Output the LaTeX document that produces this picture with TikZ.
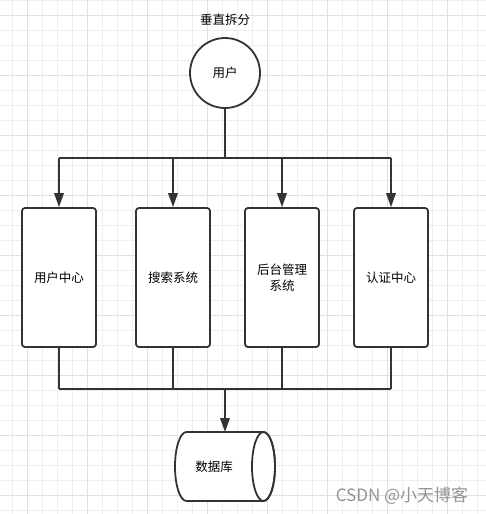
\documentclass[tikz,border=0pt]{standalone}
\usepackage{fontspec}
\setmainfont{Noto Sans CJK SC}
\usetikzlibrary{arrows.meta}
\definecolor{ink}{HTML}{333333}
\definecolor{minorgrid}{HTML}{EEEEEE}
\definecolor{majorgrid}{HTML}{E0E0E0}
\tikzset{
  label font/.style={font=\fontsize{12.5}{15.5}\selectfont, text=black},
  wire/.style={draw=ink, line width=1.8pt},
  feed/.style={wire, -{Triangle[length=14pt,width=9.5pt]}},
  sysbox/.style={draw=ink, line width=1.8pt, rounded corners=3pt, fill=white,
    minimum width=74pt, minimum height=139pt, inner sep=0pt, align=center, label font},
}
\begin{document}
\begin{tikzpicture}[x=1pt,y=-1pt]
  \useasboundingbox (0,0) rectangle (486,514);
  % grid paper
  \fill[white] (0,0) rectangle (486,514);
  \foreach \x in {12.5,27.5,...,486} \draw[minorgrid, line width=0.8pt] (\x,0) -- (\x,514);
  \foreach \y in {0,15,...,514} \draw[minorgrid, line width=0.8pt] (0,\y) -- (486,\y);
  \foreach \x in {27.5,87.5,...,486} \draw[majorgrid, line width=0.8pt] (\x,0) -- (\x,514);
  \foreach \y in {15,75,...,514} \draw[majorgrid, line width=0.8pt] (0,\y) -- (486,\y);

  \node[label font] (title) at (225,20) {垂直拆分};
  \node[circle, draw=ink, line width=1.8pt, fill=white, minimum size=70pt, inner sep=0pt, label font] (user) at (225,73) {用户};

  \node[sysbox] (ucenter) at (59,277.5) {用户中心};
  \node[sysbox] (search) at (173,277.5) {搜索系统};
  \node[sysbox] (admin) at (282,277.5) {后台管理\\系统};
  \node[sysbox] (auth) at (391,277.5) {认证中心};

  % database drum
  \draw[wire, fill=white] (186.5,432) -- (263.5,432)
    arc[start angle=90, end angle=-90, x radius=11.5pt, y radius=34.5pt]
    -- (186.5,501)
    arc[start angle=270, end angle=90, x radius=11.5pt, y radius=34.5pt] -- cycle;
  \draw[wire] (263.5,466.5) ellipse [x radius=11.5pt, y radius=34.5pt];
  \node[label font] (db) at (214,467) {数据库};
  \coordinate (dbtop) at (225,432);

  \coordinate (split) at (225,158);
  \coordinate (join) at (225,389);

  % fan out
  \draw[wire] (user) -- (split);
  \draw[wire] (ucenter.north |- split) -- (auth.north |- split);
  \foreach \sys in {ucenter,search,admin,auth}
    \draw[feed] (\sys.north |- split) -- (\sys.north);

  % fan in
  \foreach \sys in {ucenter,search,admin,auth}
    \draw[wire] (\sys.south) -- (\sys.south |- join);
  \draw[wire] (ucenter.south |- join) -- (auth.south |- join);
  \draw[feed] (join) -- (dbtop);

  \node[font=\fontsize{17}{20}\selectfont, text=gray!85] (mark) at (402,496) {CSDN @小天博客};
\end{tikzpicture}
\end{document}
